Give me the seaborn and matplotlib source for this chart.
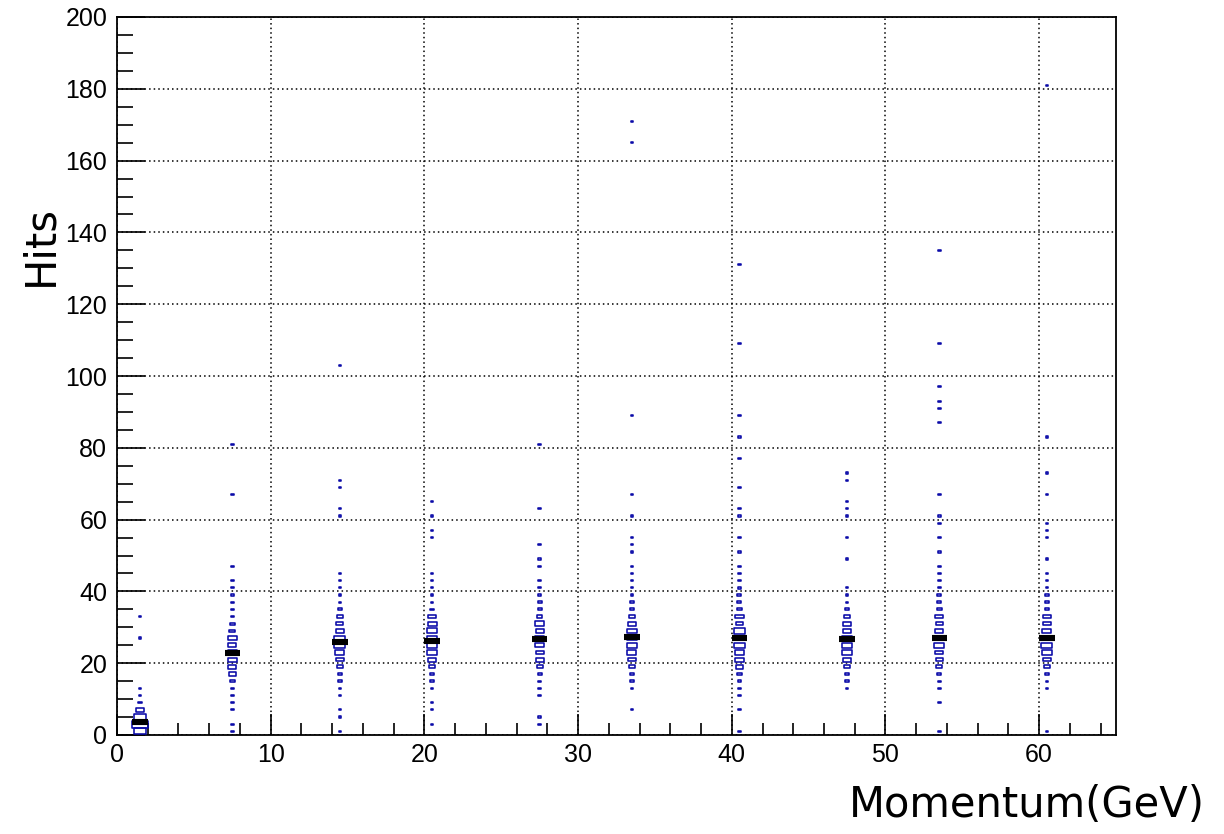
import numpy as np
import pandas as pd
import matplotlib
matplotlib.use("Agg")
import matplotlib.pyplot as plt
from matplotlib.path import Path
from matplotlib.ticker import MultipleLocator
import seaborn as sns

# ---------------- data ----------------
col_x = [1.5, 7.5, 14.5, 20.5, 27.5, 33.5, 40.5, 47.5, 53.5, 60.5]

y_c1 = [1, 3, 5, 7, 9, 11, 13, 27, 33]
n_c1 = [33, 49, 30, 11, 2, 1, 1, 1, 1]

y_c2 = [1, 3, 7, 9, 11, 13, 15, 17, 19, 21, 23, 25, 27, 29, 31, 33, 35, 37, 39, 41, 43, 47, 67, 81]
n_c2 = [1, 1, 1, 1, 1, 2, 4, 11, 12, 16, 18, 13, 16, 6, 5, 2, 1, 1, 1, 1, 1, 1, 1, 1]

y_c3 = [1, 5, 7, 11, 13, 15, 17, 19, 21, 23, 25, 27, 29, 31, 33, 35, 37, 39, 41, 43, 45, 61, 63, 69, 71, 103]
n_c3 = [1, 1, 1, 1, 1, 2, 4, 8, 11, 16, 23, 23, 11, 9, 7, 3, 1, 1, 1, 1, 1, 1, 1, 1, 1, 1]

y_c4 = [3, 7, 9, 13, 15, 17, 19, 21, 23, 25, 27, 29, 31, 33, 35, 37, 39, 41, 43, 45, 55, 57, 61, 65]
n_c4 = [1, 1, 1, 1, 2, 3, 9, 13, 21, 23, 18, 23, 16, 11, 2, 1, 1, 1, 1, 1, 1, 1, 1, 1]

y_c5 = [3, 5, 11, 13, 15, 17, 19, 21, 23, 25, 27, 29, 31, 33, 35, 37, 39, 41, 43, 47, 49, 53, 63, 81]
n_c5 = [1, 1, 1, 1, 1, 3, 7, 13, 13, 18, 18, 13, 18, 5, 3, 3, 1, 1, 1, 1, 1, 1, 1, 1]

y_c6 = [7, 13, 15, 17, 19, 21, 23, 25, 27, 29, 31, 33, 35, 37, 39, 41, 43, 45, 47, 51, 53, 55, 61, 67, 89, 165, 171]
n_c6 = [1, 1, 2, 3, 6, 11, 16, 21, 20, 18, 13, 6, 4, 3, 1, 1, 1, 1, 1, 1, 1, 1, 1, 1, 1, 1, 1]

y_c7 = [1, 7, 11, 13, 15, 17, 19, 21, 23, 25, 27, 29, 31, 33, 35, 37, 39, 41, 43, 45, 47, 51, 55, 61, 63, 69, 77, 83, 89, 109, 131]
n_c7 = [1, 1, 1, 1, 2, 4, 11, 16, 18, 21, 20, 26, 9, 13, 4, 3, 3, 2, 1, 1, 1, 1, 1, 1, 1, 1, 1, 1, 1, 1, 1]

y_c8 = [13, 15, 17, 19, 21, 23, 25, 27, 29, 31, 33, 35, 37, 39, 41, 49, 55, 61, 63, 65, 71, 73]
n_c8 = [1, 2, 4, 6, 13, 18, 23, 18, 13, 13, 9, 4, 1, 1, 1, 1, 1, 1, 1, 1, 1, 1]

y_c9 = [1, 9, 13, 15, 17, 19, 21, 23, 25, 27, 29, 31, 33, 35, 37, 39, 41, 43, 45, 47, 51, 55, 59, 61, 67, 87, 91, 93, 97, 109, 135]
n_c9 = [1, 1, 1, 1, 3, 6, 11, 13, 21, 20, 13, 11, 13, 4, 3, 3, 1, 1, 1, 1, 1, 1, 1, 1, 1, 1, 1, 1, 1, 1, 1]

y_c10 = [1, 13, 15, 17, 19, 21, 23, 25, 27, 29, 31, 33, 35, 37, 39, 41, 43, 45, 49, 55, 57, 59, 67, 73, 83, 181]
n_c10 = [1, 1, 1, 4, 7, 11, 18, 23, 20, 16, 11, 11, 4, 3, 3, 1, 1, 1, 1, 1, 1, 1, 1, 1, 1, 1]

profile_mean = [3.5, 22.9, 25.9, 26.3, 26.7, 27.2, 27.1, 26.7, 27.1, 27.1]

x_ticks = [0, 10, 20, 30, 40, 50, 60]
y_ticks = [0, 20, 40, 60, 80, 100, 120, 140, 160, 180, 200]

# ---------------- build table ----------------
cols_y = [y_c1, y_c2, y_c3, y_c4, y_c5, y_c6, y_c7, y_c8, y_c9, y_c10]
cols_n = [n_c1, n_c2, n_c3, n_c4, n_c5, n_c6, n_c7, n_c8, n_c9, n_c10]
rows = []
for cx, ys, ns in zip(col_x, cols_y, cols_n):
    for yv, nv in zip(ys, ns):
        rows.append((cx, yv, nv))
df = pd.DataFrame(rows, columns=["Momentum", "Hits", "count"])
prof = pd.DataFrame({"Momentum": col_x, "mean": profile_mean})

# ---------------- style ----------------
sns.set_theme(style="white")
plt.rcParams["font.family"] = ["Liberation Sans", "DejaVu Sans"]

BLUE = "#0a0aa8"
fig = plt.figure(figsize=(12.24, 8.34), dpi=100)
ax = fig.add_axes([117 / 1224, 1 - 735 / 834, (1116 - 117) / 1224, (735 - 17) / 834])

# rectangular box marker with the aspect of one bin (1 GeV x 2 hits)
ar = 0.467
box = Path([(-1, -ar), (1, -ar), (1, ar), (-1, ar), (-1, -ar)], closed=True)

cmax = df["count"].max()
full_w_pt = 15.6 * 72 / 100.0
min_w_pt = 2.6 * 72 / 100.0
sns.scatterplot(data=df, x="Momentum", y="Hits", size="count",
                sizes=(min_w_pt ** 2, full_w_pt ** 2), size_norm=(1, cmax),
                marker=box, facecolor="none", edgecolor=BLUE,
                linewidth=1.15, legend=False, ax=ax, zorder=3)

# profile (mean per momentum bin)
ax.errorbar(prof["Momentum"], prof["mean"], xerr=0.5, fmt="none",
            ecolor="black", elinewidth=4.4, capsize=0, zorder=4)

ax.set_xlim(0, 65)
ax.set_ylim(0, 200)
ax.set_xticks(x_ticks)
ax.set_yticks(y_ticks)
ax.xaxis.set_minor_locator(MultipleLocator(2))
ax.yaxis.set_minor_locator(MultipleLocator(5))
ax.tick_params(axis="both", which="both", direction="in", color="black",
               labelsize=18, labelcolor="black")
ax.tick_params(axis="x", which="major", length=15, width=1.2, pad=6,
               bottom=True, top=False)
ax.tick_params(axis="x", which="minor", length=8.5, width=1.2,
               bottom=True, top=False)
ax.tick_params(axis="y", which="major", length=20, width=1.2, pad=7,
               left=True, right=False)
ax.tick_params(axis="y", which="minor", length=11.5, width=1.2,
               left=True, right=False)

ax.grid(True, which="major", color="black", linestyle=(0, (1, 2.0)),
        linewidth=1.1)
ax.set_axisbelow(True)
for sp in ax.spines.values():
    sp.set_color("black")
    sp.set_linewidth(1.3)

ax.set_xlabel("Momentum(GeV)", fontsize=30, family="DejaVu Sans",
              color="black", ha="right", va="center")
ax.xaxis.set_label_coords(1.089, -0.0975)
ax.set_ylabel("Hits", fontsize=30, family="DejaVu Sans", color="black",
              ha="center", va="center")
ax.yaxis.set_label_coords(-0.077, 0.682)

fig.savefig("out.png", dpi=100, facecolor="white")
